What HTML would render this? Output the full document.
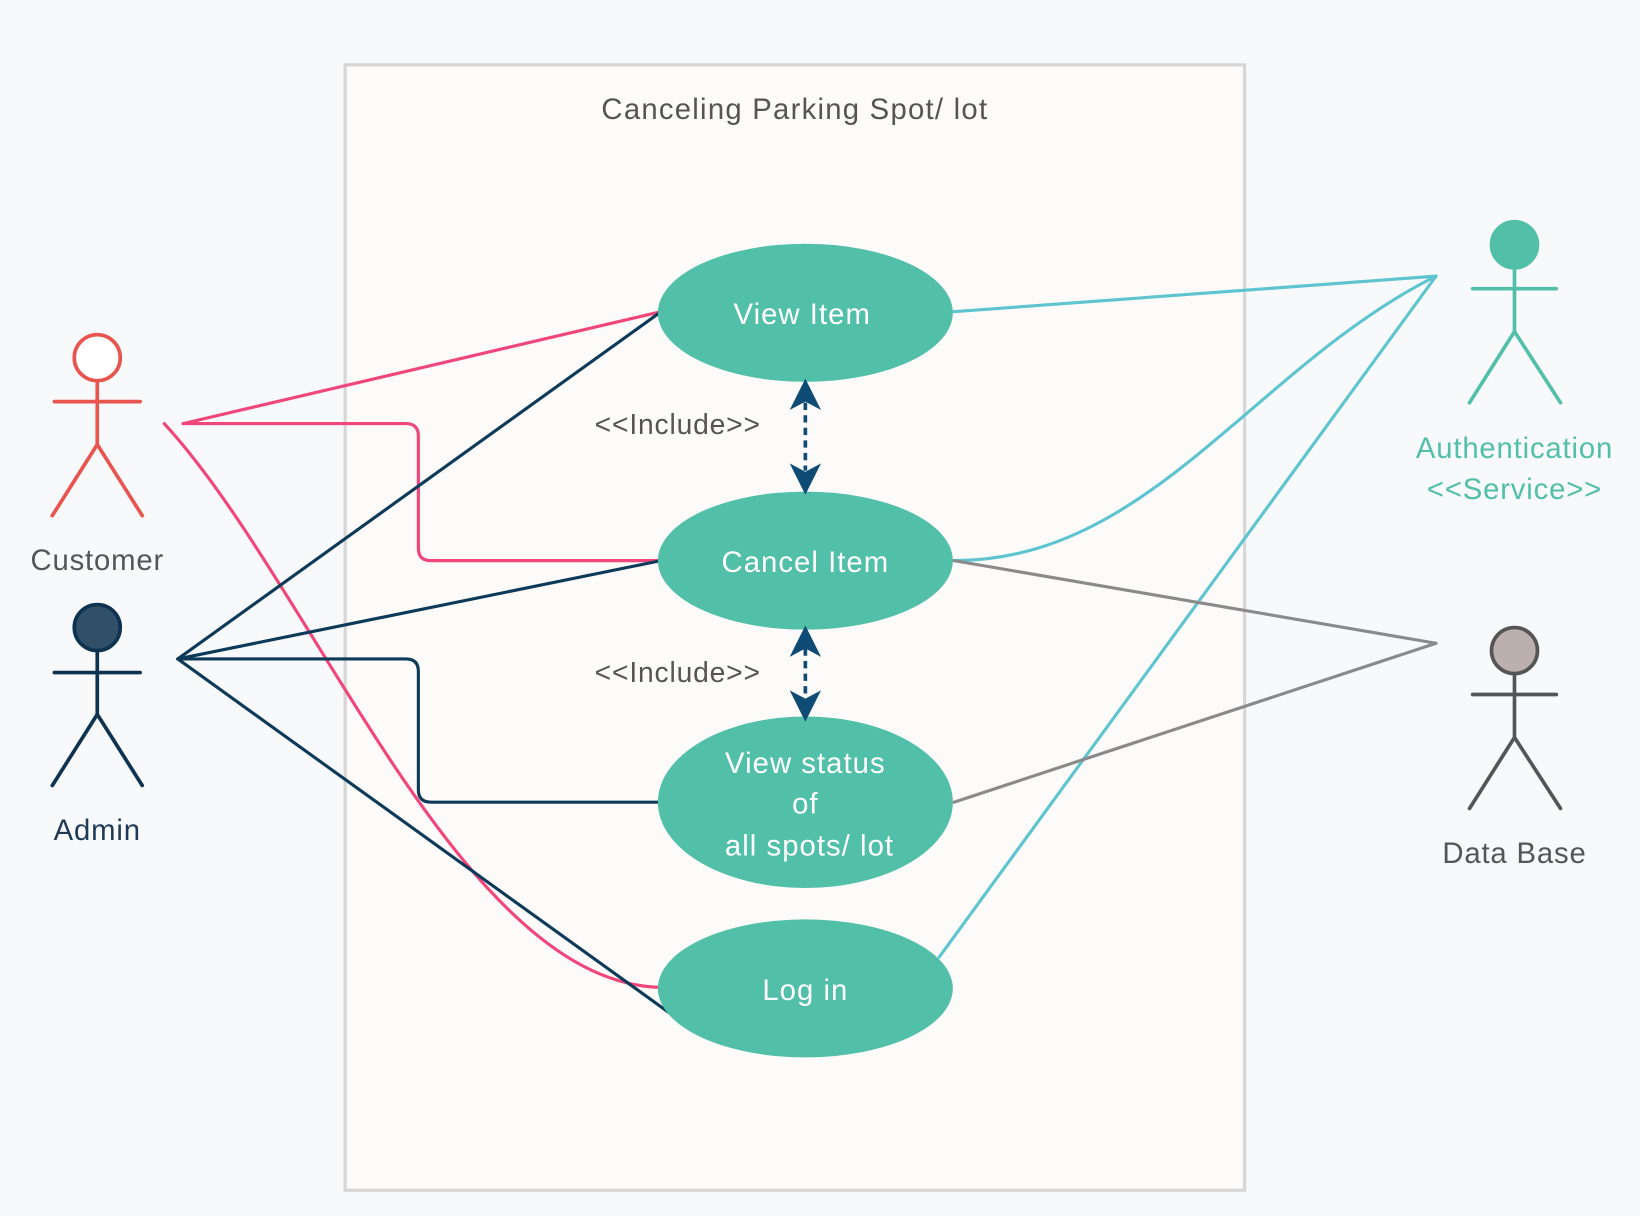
<!DOCTYPE html>
<html><head><meta charset="utf-8"><style>
html,body{margin:0;padding:0;background:#f8f9fb;}
svg{display:block;}
text{font-family:"Liberation Sans",sans-serif;}
</style></head><body>
<svg width="1640" height="1216" viewBox="0 0 1568 1162.6" preserveAspectRatio="none" xmlns="http://www.w3.org/2000/svg">
<rect x="0" y="0" width="1568" height="1163" fill="#f8f9fb"/>
<rect x="330" y="62" width="860" height="1076" fill="#fcfbfa" stroke="#d6d6d6" stroke-width="3"/>
<text x="760" y="114" font-size="28" letter-spacing="1.2" fill="#555" text-anchor="middle">Canceling Parking Spot/ lot</text>

<g fill="none" stroke-width="3" stroke-linecap="round">
<path d="M175 405 L632 298" stroke="#f0467a"/>
<path d="M175 405 H388 Q400 405 400 417 V524 Q400 536 412 536 H632" stroke="#f0467a"/>
<path d="M157 405 C300 560 440 940 632 944" stroke="#f0467a"/>
<path d="M170 630 L632 298" stroke="#0e3a5a"/>
<path d="M170 630 L632 536" stroke="#0e3a5a"/>
<path d="M170 630 H388 Q400 630 400 642 V755 Q400 767 412 767 H632" stroke="#0e3a5a"/>
<path d="M170 630 L645 972" stroke="#0e3a5a"/>
<path d="M912 298 L1373 264" stroke="#5ec5d0"/>
<path d="M912 536 C1100 536 1200 350 1373 264" stroke="#5ec5d0"/>
<path d="M898 915 L1373 264" stroke="#5ec5d0"/>
<path d="M912 536 L1373 615" stroke="#8a8a8a"/>
<path d="M912 767 L1373 615" stroke="#8a8a8a"/>
</g>

<g fill="#52bfa8">
<ellipse cx="770" cy="299" rx="141" ry="66"/>
<ellipse cx="770" cy="536" rx="141" ry="66"/>
<ellipse cx="770" cy="767" rx="141" ry="82"/>
<ellipse cx="770" cy="945" rx="141" ry="66"/>
</g>
<g fill="#fff" font-size="28" letter-spacing="1" text-anchor="middle">
<text x="767" y="310">View Item</text>
<text x="770" y="547">Cancel Item</text>
<text x="770" y="739">View status</text>
<text x="770" y="778">of</text>
<text x="774" y="818">all spots/ lot</text>
<text x="770" y="956">Log in</text>
</g>

<g stroke="#0f4c75" stroke-width="3.5" fill="none">
<path d="M770 385 V450" stroke-dasharray="7 5"/>
<path d="M770 620 V668" stroke-dasharray="7 5"/>
</g>
<g fill="#0f4c75">
<path d="M770 362 L785 392 L770 384 L755 392 Z"/>
<path d="M770 473 L785 443 L770 451 L755 443 Z"/>
<path d="M770 598 L785 628 L770 620 L755 628 Z"/>
<path d="M770 690 L785 660 L770 668 L755 660 Z"/>
</g>
<g font-size="27" letter-spacing="0.8" fill="#555" text-anchor="middle">
<text x="648" y="415">&lt;&lt;Include&gt;&gt;</text>
<text x="648" y="652">&lt;&lt;Include&gt;&gt;</text>
</g>

<g stroke-width="3.5" fill="none" stroke-linecap="round">
<g stroke="#e8554e">
<circle cx="93" cy="342" r="22" fill="#fff"/>
<path d="M93 364 V425 M52 384 H134 M93 425 L50 493 M93 425 L136 493"/>
</g>
<g stroke="#0e3350">
<circle cx="93" cy="600" r="22" fill="#2f5068"/>
<path d="M93 622 V683 M52 643 H134 M93 683 L50 751 M93 683 L136 751"/>
</g>
<g stroke="#52bfa8">
<circle cx="1448" cy="234" r="22" fill="#52bfa8"/>
<path d="M1448 256 V317 M1408 276 H1488 M1448 317 L1405 385 M1448 317 L1492 385"/>
</g>
<g stroke="#555">
<circle cx="1448" cy="622" r="22" fill="#bcb0ae"/>
<path d="M1448 644 V705 M1408 664 H1488 M1448 705 L1405 773 M1448 705 L1492 773"/>
</g>
</g>
<g font-size="28" letter-spacing="0.8" text-anchor="middle">
<text x="93" y="545" fill="#555">Customer</text>
<text x="93" y="803" fill="#1e3a55">Admin</text>
<text x="1448" y="438" fill="#52bfa8">Authentication</text>
<text x="1448" y="477" fill="#52bfa8">&lt;&lt;Service&gt;&gt;</text>
<text x="1448" y="825" fill="#555">Data Base</text>
</g>
</svg>
</body></html>
